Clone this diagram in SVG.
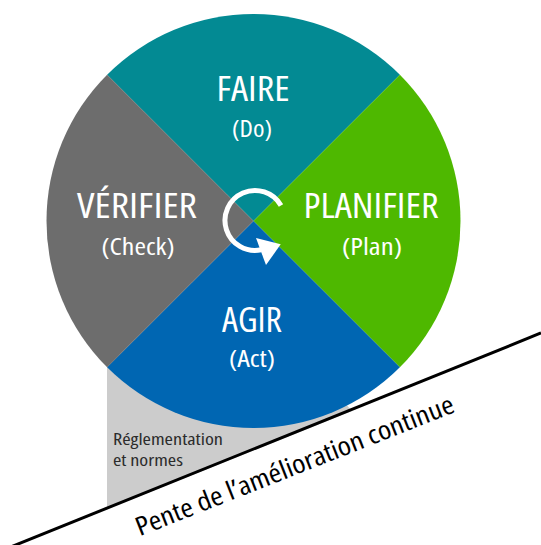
<svg xmlns="http://www.w3.org/2000/svg" width="541" height="545" viewBox="0 0 541 545">
  <style>
    .lbl { font-family: "Open Sans", "Liberation Sans", sans-serif; font-stretch: 80%; fill: #ffffff; text-anchor: middle; }
    .big { font-size: 34px; }
    .sub { font-size: 24px; }
    .note { font-family: "Open Sans", "Liberation Sans", sans-serif; font-stretch: 80%; font-size: 17px; fill: #2b2b2b; }
    .slope-txt { font-family: "Open Sans", "Liberation Sans", sans-serif; font-stretch: 80%; font-size: 26px; fill: #000000; text-anchor: middle; }
    .cycle { fill: none; stroke: #ffffff; stroke-width: 5; }
  </style>
  <rect width="541" height="545" fill="#ffffff"/>

  <!-- regulations band under the wheel -->
  <g id="reglementation">
    <polygon points="107,360 107,509 352,411 253,300" fill="#cccccc"/>
    <text class="note" x="113" y="445" textLength="110" lengthAdjust="spacingAndGlyphs">Réglementation</text>
    <text class="note" x="113" y="466" textLength="70" lengthAdjust="spacingAndGlyphs">et normes</text>
  </g>

  <!-- PDCA wheel: centre (253.5,221), radius 207 -->
  <g id="faire">
    <path d="M253.5,221 L107.13,74.63 A207,207 0 0 1 399.87,74.63 Z" fill="#038a93"/>
    <text class="lbl big" x="253" y="101" textLength="73" lengthAdjust="spacingAndGlyphs">FAIRE</text>
    <text class="lbl sub" x="252" y="137" textLength="40" lengthAdjust="spacingAndGlyphs">(Do)</text>
  </g>
  <g id="planifier">
    <path d="M253.5,221 L399.87,74.63 A207,207 0 0 1 399.87,367.37 Z" fill="#4eb800"/>
    <text class="lbl big" x="371" y="218" textLength="135" lengthAdjust="spacingAndGlyphs">PLANIFIER</text>
    <text class="lbl sub" x="372" y="255" textLength="60" lengthAdjust="spacingAndGlyphs">(Plan)</text>
  </g>
  <g id="agir">
    <path d="M253.5,221 L399.87,367.37 A207,207 0 0 1 107.13,367.37 Z" fill="#0066b2"/>
    <text class="lbl big" x="252" y="332" textLength="60" lengthAdjust="spacingAndGlyphs">AGIR</text>
    <text class="lbl sub" x="252" y="367" textLength="46" lengthAdjust="spacingAndGlyphs">(Act)</text>
  </g>
  <g id="verifier">
    <path d="M253.5,221 L107.13,367.37 A207,207 0 0 1 107.13,74.63 Z" fill="#6d6d6d"/>
    <text class="lbl big" x="137" y="218" textLength="120" lengthAdjust="spacingAndGlyphs">VÉRIFIER</text>
    <text class="lbl sub" x="138" y="255" textLength="73" lengthAdjust="spacingAndGlyphs">(Check)</text>
  </g>

  <g id="connectors">
    <!-- cycle arrow in the centre -->
    <path class="cycle" d="M281,205.5 A30,30 0 1 0 261.2,249.8"/>
    <polygon points="256,237.9 280.7,244.3 266,265.1" fill="#ffffff"/>
    <!-- slope line -->
    <line x1="0" y1="551.3" x2="541" y2="333" stroke="#000000" stroke-width="3"/>
  </g>

  <g id="pente">
    <text class="slope-txt" transform="translate(298 474) rotate(-21.5)" x="0" y="0" textLength="340" lengthAdjust="spacingAndGlyphs">Pente de l’amélioration continue</text>
  </g>
</svg>
